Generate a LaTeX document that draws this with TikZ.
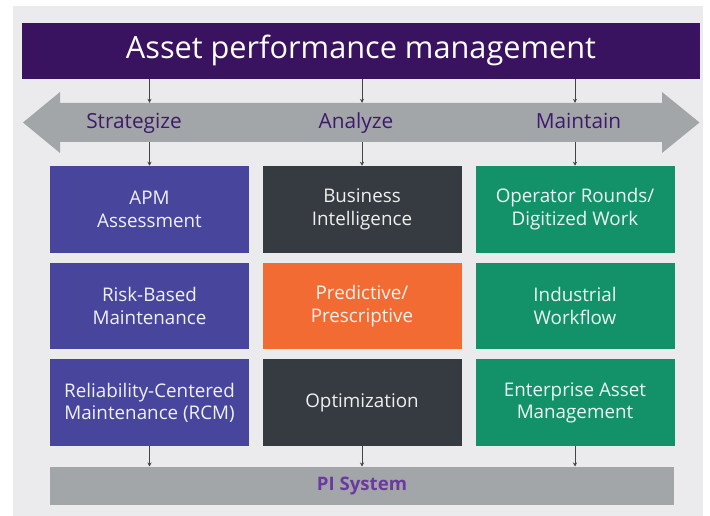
\documentclass[tikz,border=0pt]{standalone}
\usepackage{fontspec}
\setmainfont{Open Sans}
\usetikzlibrary{arrows.meta}
\definecolor{bgc}{HTML}{EBEBED}
\definecolor{bannerc}{HTML}{39135F}
\definecolor{bandc}{HTML}{A3A6A8}
\definecolor{bandtext}{HTML}{3D1A6E}
\definecolor{bluec}{HTML}{48469C}
\definecolor{darkc}{HTML}{353B41}
\definecolor{orangec}{HTML}{F26B32}
\definecolor{greenc}{HTML}{13926A}
\definecolor{pitext}{HTML}{6A3AA0}
\definecolor{linec}{HTML}{444444}
\begin{document}
\begin{tikzpicture}[x=1pt,y=-1pt,
  boxst/.style={minimum width=199pt,minimum height=86.7pt,inner sep=0pt,align=center,
     text=white,text opacity=0.92,font=\fontsize{18.8}{22.4}\selectfont},
  bandlbl/.style={text=bandtext,font=\fontsize{20.8}{24}\selectfont,inner sep=0pt,anchor=base},
  conn/.style={draw=linec,line width=0.8pt,-{Stealth[length=4pt,width=4pt]}}]
\useasboundingbox (0,0) rectangle (710,516);
\fill[bgc] (13,6) rectangle (703,516);
\node[fill=bannerc,minimum width=678pt,minimum height=56pt,inner sep=0pt,text=white,
  font=\fontsize{30.7}{36}\selectfont] (apm) at (361,50.7) {Asset performance management};
\fill[bandc] (23,122.5) -- (60,92) -- (60,103) -- (662,103) -- (662,92) -- (699.5,122.5)
  -- (662,153) -- (662,142) -- (60,142) -- (60,153) -- cycle;
\node[minimum width=602pt,minimum height=39pt,inner sep=0pt] (band) at (361,122.5) {};
\node[bandlbl] (s) at (134,128.5) {Strategize};
\node[bandlbl] (a) at (356,128.5) {Analyze};
\node[bandlbl] (m) at (578.5,128.5) {Maintain};
% boxes
\node[boxst,fill=bluec] (b11) at (149.5,209.3) {APM\\Assessment};
\node[boxst,fill=bluec] (b21) at (149.5,306) {Risk-Based\\Maintenance};
\node[boxst,fill=bluec] (b31) at (149.5,402.7) {Reliability-Centered\\Maintenance (RCM)};
\node[boxst,fill=darkc] (b12) at (362,209.3) {Business\\Intelligence};
\node[boxst,fill=orangec] (b22) at (362,306) {Predictive/\\Prescriptive};
\node[boxst,fill=darkc] (b32) at (362,402.7) {Optimization};
\node[boxst,fill=greenc] (b13) at (575,209.3) {Operator Rounds/\\Digitized Work};
\node[boxst,fill=greenc] (b23) at (575,306) {Industrial\\Workflow};
\node[boxst,fill=greenc] (b33) at (575,402.7) {Enterprise Asset\\Management};
\node[fill=bandc,minimum width=624pt,minimum height=38pt,inner sep=0pt,text=pitext,
  font=\fontsize{18.6}{20}\selectfont\bfseries] (pi) at (362,485.7) {PI System};
% connectors
\foreach \c in {b11,b12,b13}{
  \draw[conn] (apm.south -| \c.north) -- (band.north -| \c.north);
  \draw[conn] (band.south -| \c.north) -- (\c.north);
}
\foreach \c in {b31,b32,b33}{
  \draw[conn] (\c.south) -- (pi.north -| \c.south);
}
\end{tikzpicture}
\end{document}
